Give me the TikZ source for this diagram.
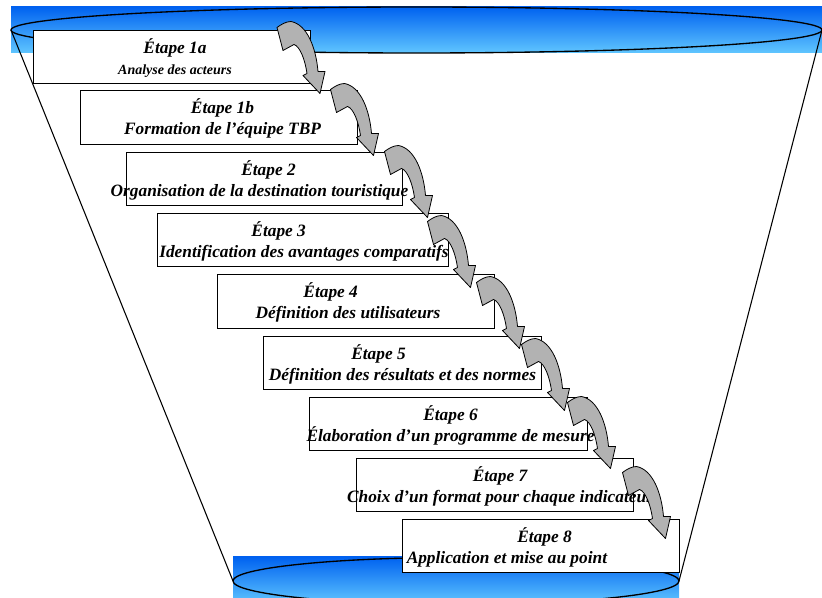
\documentclass[tikz,border=0pt]{standalone}
\usepackage{fontspec}
\setmainfont{Liberation Serif}
\usetikzlibrary{calc,shapes.geometric}
\definecolor{deepblue}{RGB}{0,98,240}
\definecolor{paleblue}{RGB}{96,198,255}
\definecolor{arrowgray}{RGB}{178,178,178}
\begin{document}
\begin{tikzpicture}[x=0.75pt,y=-0.75pt,
  ring/.style={ellipse, draw=black, line width=1pt, inner sep=0pt, outer sep=0pt},
  wall/.style={draw=black, line width=0.8pt},
  stepbox/.style={draw=black, line width=0.75pt, fill=white, minimum width=207.75pt,
    minimum height=39.75pt, inner sep=0pt, outer sep=0pt},
  steptext/.style={font=\fontsize{13}{15.75}\selectfont\bfseries\itshape, align=center, inner sep=0pt},
  pics/bendarrow/.style={code={
    \draw[fill=arrowgray, draw=black, line width=0.6pt, line join=round]
      (-43,-66) .. controls (-39,-69) and (-34,-72) .. (-29,-72)
      .. controls (-13,-69) and (-4,-46) .. (-2,-22)
      -- (5,-22) -- (0,0) -- (-17,-18) -- (-13,-20)
      .. controls (-15,-34) and (-20,-47) .. (-26,-49)
      -- (-37,-43) -- cycle;
  }}]
\useasboundingbox (0,0) rectangle (822,598);
\clip (0,0) rectangle (822,598);

% rim and base of the funnel
\shade[top color=deepblue, bottom color=paleblue] (11,7) rectangle (822,53);
\shade[top color=deepblue, bottom color=paleblue] (233,557) rectangle (679,604);
\node[ring, minimum width=608.25pt, minimum height=34.5pt] (topring) at (416.5,30) {};
\node[ring, minimum width=334.5pt, minimum height=35.25pt] (basering) at (456,581) {};
\draw[wall] (topring.west) -- (basering.west);
\draw[wall] (topring.east) -- (basering.east);

% the steps
\node[stepbox] (b1a) at (172,57) {};
\node[stepbox, minimum height=40.5pt] (b1b) at (218.5,117.5) {};
\node[stepbox, minimum width=207pt] (b2) at (264.5,179) {};
\node[stepbox, minimum width=218.25pt] (b3) at (303,240) {};
\node[stepbox, minimum height=40.5pt] (b4) at (356,301.5) {};
\node[stepbox, minimum width=208.5pt] (b5) at (402.5,363) {};
\node[stepbox, minimum width=208.5pt] (b6) at (448.5,424) {};
\node[stepbox] (b7) at (495,485) {};
\node[stepbox] (b8) at (541,546) {};

\node[steptext] (t1a) at ($(b1a.center)+(3,1)$) {Étape 1a\\{\fontsize{10.5}{12}\selectfont Analyse des acteurs}};
\node[steptext] (t1b) at ($(b1b.center)+(4,1)$) {Étape 1b\\Formation de l’équipe TBP};
\node[steptext] (t2) at ($(b2.center)+(-5,1)$) {\hspace*{13.5pt}Étape 2\\Organisation de la destination touristique};
\node[steptext] (t3) at ($(b3.center)+(1,1)$) {Étape 3\hspace*{38pt}\\Identification des avantages comparatifs};
\node[steptext] (t4) at ($(b4.center)+(-8,1)$) {Étape 4\hspace*{26pt}\\Définition des utilisateurs};
\node[steptext] (t5) at ($(b5.center)+(0,1)$) {Étape 5\hspace*{36pt}\\Définition des résultats et des normes};
\node[steptext] (t6) at ($(b6.center)+(2,1)$) {Étape 6\\Élaboration d’un programme de mesure};
\node[steptext] (t7) at ($(b7.center)+(5,1)$) {Étape 7\\Choix d’un format pour chaque indicateur};
\node[steptext, align=left, anchor=west] (t8) at ($(b8.west)+(4,1)$) {\hspace*{83pt}Étape 8\\Application et mise au point};

% bent arrows leading from one step to the next
\pic at ($(b1b.north east)+(-37,3)$) {bendarrow};
\pic at ($(b2.north east)+(-29,3)$) {bendarrow};
\pic at ($(b3.north east)+(-21,4)$) {bendarrow};
\pic at ($(b4.north east)+(-24,13)$) {bendarrow};
\pic at ($(b5.north east)+(-22,12)$) {bendarrow};
\pic at ($(b6.north east)+(-23,13)$) {bendarrow};
\pic at ($(b7.north east)+(-23,10)$) {bendarrow};
\pic at ($(b8.north east)+(-14,19)$) {bendarrow};
\end{tikzpicture}
\end{document}
